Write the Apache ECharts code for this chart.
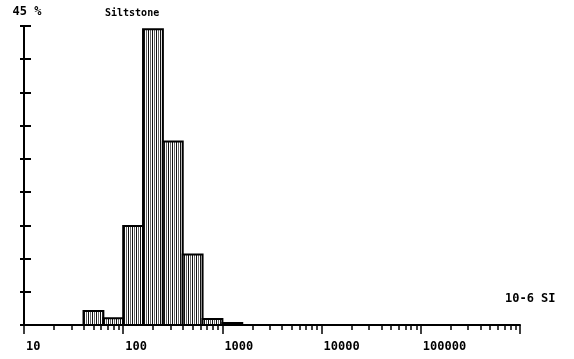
<!DOCTYPE html>
<html>
<head>
<meta charset="utf-8">
<script src="https://cdn.jsdelivr.net/npm/echarts@6/dist/echarts.min.js"></script>
<style>
  html, body { margin: 0; background: #fff; }
  #chart { width: 574px; height: 359px; }
</style>
</head>
<body>
<div id="chart"></div>
<script>
// histogram bins (log-spaced, 0.2 decade wide), units 10-6 SI
const binLow = [39.8, 63.1, 100, 158.5, 251.2, 398.1, 631, 1000];
const binHigh = [63.1, 100, 158.5, 251.2, 398.1, 631, 1000, 1585];
const percent = [2.1, 1.0, 14.9, 44.5, 27.6, 10.6, 0.9, 0.3];

const xLabelValues = [10, 100, 1000, 10000, 100000];
const decadeTicks = [10, 100, 1000, 10000, 100000, 1000000];
const yMax = 45;

// 2..9 ticks inside each decade
const minorTicks = [];
decadeTicks.slice(0, -1).forEach(d => {
    for (let k = 2; k <= 9; k++) minorTicks.push(k * d);
});

const font = 'DejaVu Sans Mono';

// vertical hatching like the scanned plot
function stripePattern() {
    const c = document.createElement('canvas');
    c.width = 4;
    c.height = 4;
    const ctx = c.getContext('2d');
    ctx.fillStyle = '#fff';
    ctx.fillRect(0, 0, 4, 4);
    ctx.fillStyle = '#111';
    ctx.fillRect(0, 0, 1, 4);
    ctx.fillStyle = '#666';
    ctx.fillRect(2, 0, 1, 4);
    return { image: c, repeat: 'repeat' };
}

const chartDom = document.getElementById('chart');
const myChart = echarts.init(chartDom);
const pattern = stripePattern();

const logAxisBase = {
    type: 'log',
    logBase: 10,
    min: 10,
    max: 1000000,
    splitLine: { show: false },
    minorTick: { show: false }
};

const option = {
    backgroundColor: '#fff',
    animation: false,
    title: [
        {
            text: 'Siltstone',
            left: 105, top: 8, padding: 0,
            textStyle: { fontFamily: font, fontWeight: 'bold', fontSize: 10, color: '#000' }
        },
        {
            text: '10-6 SI',
            left: 505, top: 293, padding: 0,
            textStyle: { fontFamily: font, fontWeight: 'bold', fontSize: 12, color: '#000' }
        }
    ],
    grid: { left: 24, right: 54, top: 26, bottom: 34 },
    xAxis: [
        {
            ...logAxisBase,
            axisLine: { show: true, lineStyle: { color: '#000', width: 2 } },
            axisTick: {
                show: true, length: 9, customValues: decadeTicks,
                lineStyle: { color: '#000', width: 1.5 }
            },
            axisLabel: {
                customValues: xLabelValues,
                align: 'left',
                margin: 16,
                padding: [0, 0, 0, 2],
                color: '#000',
                fontFamily: font,
                fontWeight: 'bold',
                fontSize: 12,
                formatter: v => String(v)
            }
        },
        {
            ...logAxisBase,
            position: 'bottom',
            axisLine: { show: false },
            axisTick: {
                show: true, length: 5, customValues: minorTicks,
                lineStyle: { color: '#000', width: 1.5 }
            },
            axisLabel: { show: false }
        }
    ],
    yAxis: [
        {
            type: 'value',
            min: 0,
            max: yMax,
            interval: 5,
            name: '45 %',
            nameLocation: 'end',
            nameGap: 8,
            nameTextStyle: { color: '#000', fontFamily: font, fontWeight: 'bold', fontSize: 12, align: 'center', padding: [0, 0, 0, 6] },
            axisLine: { show: true, lineStyle: { color: '#000', width: 2 } },
            axisTick: { show: true, length: 4, lineStyle: { color: '#000', width: 2 } },
            axisLabel: { show: false },
            splitLine: { show: false }
        },
        {
            type: 'value',
            min: 0,
            max: yMax,
            interval: 5,
            position: 'left',
            axisLine: { show: false },
            axisTick: { show: true, inside: true, length: 7, lineStyle: { color: '#000', width: 2 } },
            axisLabel: { show: false },
            splitLine: { show: false }
        }
    ],
    series: [
        {
            type: 'custom',
            xAxisIndex: 0,
            yAxisIndex: 0,
            data: binLow.map((lo, i) => [lo, binHigh[i], percent[i]]),
            encode: { x: [0, 1], y: 2 },
            renderItem(params, api) {
                const p0 = api.coord([api.value(0), 0]);
                const p1 = api.coord([api.value(1), api.value(2)]);
                return {
                    type: 'rect',
                    shape: { x: p0[0], y: p1[1], width: p1[0] - p0[0], height: p0[1] - p1[1] },
                    style: { fill: pattern, stroke: '#000', lineWidth: 2 }
                };
            },
            silent: true
        }
    ]
};

myChart.setOption(option);
window.addEventListener('resize', () => myChart.resize());
</script>
</body>
</html>
